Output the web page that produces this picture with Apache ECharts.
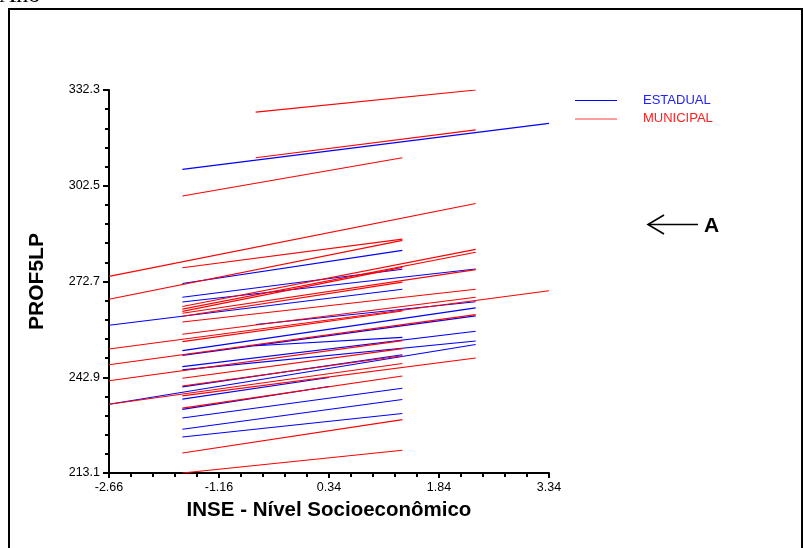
<!DOCTYPE html>
<html>
<head>
<meta charset="utf-8">
<title>PROF5LP x INSE</title>
<script src="https://cdn.jsdelivr.net/npm/echarts@6/dist/echarts.min.js"></script>
<style>
  html, body { margin: 0; padding: 0; background: #fff; }
  #chart { width: 803px; height: 548px; }
</style>
</head>
<body>
<div id="chart"></div>
<script>
// Axis ranges and tick labels
const X_START = -2.66;
const X_END = 3.34;
const Y_START = 213.1;
const Y_END = 332.3;
const xTickLabels = ['-2.66', '-1.16', '0.34', '1.84', '3.34'];
const yTickLabels = ['213.1', '242.9', '272.7', '302.5', '332.3'];

// School regression segments: [inseFrom, profFrom, inseTo, profTo]
const estadualSegments = [
  [-1.66, 307.6, 3.34, 321.9],
  [-1.66, 272.1, 1.34, 282.4],
  [-1.66, 267.8, 1.34, 276.5],
  [-1.66, 266.3, 2.34, 276.6],
  [-2.66, 259.1, 1.34, 270.3],
  [-0.66, 259.3, 2.34, 266.4],
  [-1.66, 251.2, 2.34, 264.5],
  [-1.66, 249.7, 2.34, 262.0],
  [-1.66, 246.2, 2.34, 257.2],
  [-1.66, 245.2, 2.34, 254.2],
  [-2.66, 234.5, 2.34, 253.1],
  [-0.66, 252.7, 1.34, 255.3],
  [-1.66, 239.9, 1.34, 249.9],
  [-1.66, 236.1, 0.34, 242.8],
  [-1.66, 232.9, 0.34, 240.0],
  [-1.66, 230.2, 1.34, 239.5],
  [-1.66, 226.7, 1.34, 236.0],
  [-1.66, 224.3, 1.34, 231.6]
];

const municipalSegments = [
  [-0.66, 325.4, 2.34, 332.3],
  [-0.66, 311.2, 2.34, 319.9],
  [-1.66, 299.3, 1.34, 311.2],
  [-2.66, 274.3, 2.34, 297.0],
  [-1.66, 277.0, 1.34, 285.9],
  [-2.66, 267.2, 1.34, 285.5],
  [-1.66, 264.9, 2.34, 282.7],
  [-1.66, 264.1, 2.34, 281.8],
  [-1.66, 263.4, 1.34, 277.1],
  [-1.66, 262.8, 2.34, 276.4],
  [-1.66, 261.9, 1.34, 272.5],
  [-1.66, 260.1, 2.34, 270.3],
  [-2.66, 251.7, 3.34, 269.8],
  [-1.66, 256.3, 2.34, 267.8],
  [-1.66, 254.0, 1.34, 263.5],
  [-2.66, 246.8, 2.34, 262.4],
  [-2.66, 241.8, 1.34, 254.3],
  [-1.66, 242.6, 1.34, 251.8],
  [-1.66, 240.2, 1.34, 249.6],
  [-2.66, 234.5, 1.34, 247.2],
  [-1.66, 237.1, 2.34, 248.9],
  [-1.66, 233.3, 1.34, 243.3],
  [-1.66, 219.3, 1.34, 229.7],
  [-1.66, 213.1, 1.34, 220.2]
];

const BLUE = '#0000ff';
const RED = '#ff0000';
const FONT = "'Liberation Sans', Arial, sans-serif";

// The axes run from 0 so that ticks fall on the labelled values
const X_STEP = (X_END - X_START) / 4;
const Y_STEP = (Y_END - Y_START) / 4;
function toSegment(s) {
  return { coords: [[s[0] - X_START, s[1] - Y_START], [s[2] - X_START, s[3] - Y_START]] };
}

const chart = echarts.init(document.getElementById('chart'), null, { renderer: 'canvas' });

chart.setOption({
  animation: false,
  backgroundColor: '#fff',
  grid: { left: 109, top: 90, width: 440, height: 383 },
  xAxis: {
    type: 'value',
    min: 0,
    max: X_END - X_START,
    interval: X_STEP,
    name: 'INSE - Nível Socioeconômico',
    nameLocation: 'middle',
    nameGap: 27,
    nameTextStyle: { fontFamily: FONT, fontSize: 20.5, fontWeight: 'bold', color: '#000' },
    axisLine: { show: true, onZero: false, lineStyle: { color: '#000', width: 2 } },
    axisTick: { show: true, length: 5, lineStyle: { color: '#000', width: 2 } },
    minorTick: { show: true, splitNumber: 5, length: 4, lineStyle: { color: '#000', width: 2 } },
    axisLabel: {
      margin: 8,
      fontFamily: FONT, fontSize: 12.5, color: '#000',
      formatter: (v, i) => xTickLabels[i]
    },
    splitLine: { show: false }
  },
  yAxis: {
    type: 'value',
    min: 0,
    max: Y_END - Y_START,
    interval: Y_STEP,
    name: 'PROF5LP',
    nameLocation: 'middle',
    nameGap: 61,
    nameRotate: 90,
    nameTextStyle: { fontFamily: FONT, fontSize: 21, fontWeight: 'bold', color: '#000' },
    axisLine: { show: true, onZero: false, lineStyle: { color: '#000', width: 2 } },
    axisTick: { show: true, length: 6, lineStyle: { color: '#000', width: 2 } },
    minorTick: { show: true, splitNumber: 5, length: 4, lineStyle: { color: '#000', width: 2 } },
    axisLabel: {
      margin: 9,
      fontFamily: FONT, fontSize: 12.5, color: '#000',
      formatter: (v, i) => yTickLabels[i]
    },
    splitLine: { show: false }
  },
  legend: {
    orient: 'vertical',
    left: 575,
    top: 94,
    padding: 0,
    itemWidth: 42,
    itemHeight: 1,
    itemGap: 5.4,
    icon: 'rect',
    selectedMode: false,
    textStyle: { fontFamily: FONT, fontSize: 13, padding: [0, 0, 0, 21] },
    data: [
      { name: 'ESTADUAL', itemStyle: { color: BLUE, borderWidth: 0 }, textStyle: { color: '#2222ff' } },
      { name: 'MUNICIPAL', itemStyle: { color: '#ff4040', borderWidth: 0 }, textStyle: { color: '#ff2020' } }
    ]
  },
  series: [
    {
      name: 'ESTADUAL',
      type: 'lines',
      coordinateSystem: 'cartesian2d',
      silent: true,
      itemStyle: { color: BLUE },
      lineStyle: { color: BLUE, width: 1.1, opacity: 1 },
      data: estadualSegments.map(toSegment)
    },
    {
      name: 'MUNICIPAL',
      type: 'lines',
      coordinateSystem: 'cartesian2d',
      silent: true,
      itemStyle: { color: RED },
      lineStyle: { color: RED, width: 1.1, opacity: 1 },
      data: municipalSegments.map(toSegment)
    }
  ],
  graphic: [
    {
      type: 'rect',
      shape: { x: 9, y: 9, width: 793, height: 600 },
      style: { fill: 'none', stroke: '#000', lineWidth: 2 },
      silent: true
    },
    {
      type: 'text',
      left: -1,
      top: -16,
      style: { text: 'Ano', fontFamily: "'Liberation Serif', 'Times New Roman', serif", fontSize: 24, fill: '#000' },
      silent: true
    },
    {
      type: 'polyline',
      shape: { points: [[664, 215], [648, 224.5], [664, 234]] },
      style: { fill: 'none', stroke: '#000', lineWidth: 1.6 },
      silent: true
    },
    {
      type: 'line',
      shape: { x1: 648, y1: 224.5, x2: 698, y2: 224.5 },
      style: { stroke: '#000', lineWidth: 1.6 },
      silent: true
    },
    {
      type: 'text',
      x: 704,
      y: 226,
      style: {
        text: 'A', fontFamily: FONT, fontSize: 21, fontWeight: 'bold', fill: '#000',
        verticalAlign: 'middle', align: 'left'
      },
      silent: true
    }
  ]
});
</script>
</body>
</html>
